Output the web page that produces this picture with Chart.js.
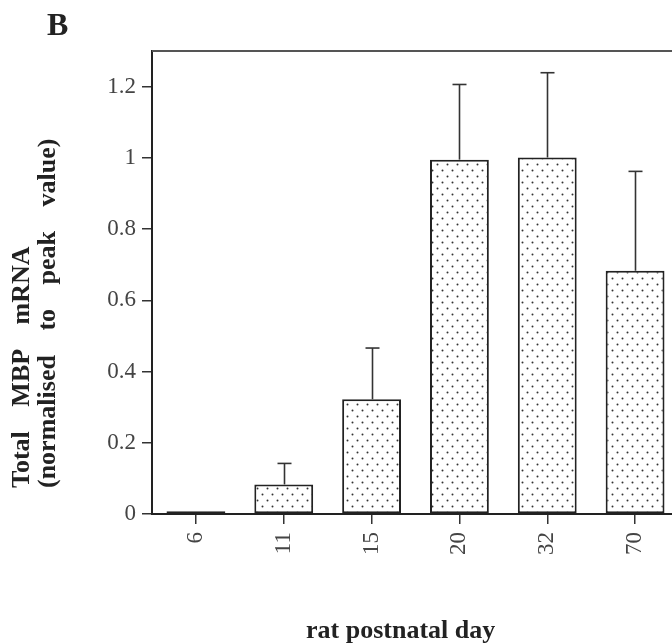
<!DOCTYPE html>
<html><head><meta charset="utf-8">
<script src="https://cdn.jsdelivr.net/npm/chart.js@4.4.1/dist/chart.umd.min.js"></script>
<style>
html,body{margin:0;padding:0;overflow:hidden;background:#fff;width:672px;height:644px;}
#wrap{position:relative;width:679px;height:644px;}
</style></head>
<body><div id="wrap"><canvas id="c" width="679" height="644"></canvas></div>
<script>
const days = ['6','11','15','20','32','70'];
const meanValues = [0.008, 0.083, 0.322, 0.995, 1.001, 0.683];
const errorValues = [0, 0.059, 0.144, 0.211, 0.238, 0.279];
const yTickValues = [0, 0.2, 0.4, 0.6, 0.8, 1, 1.2];
const yTitleLines = ['Total MBP mRNA', '(normalised to peak value)'];
const xTitle = 'rat postnatal day';
const panelLabel = 'B';

const SERIF = '"Liberation Serif", "DejaVu Serif", serif';

function makeDots(){
  const c = document.createElement('canvas');
  c.width = 10; c.height = 12;
  const g = c.getContext('2d');
  g.fillStyle = '#fff'; g.fillRect(0,0,10,12);
  g.fillStyle = '#333';
  g.beginPath(); g.arc(2.5,2.5,1.0,0,Math.PI*2); g.fill();
  g.beginPath(); g.arc(7.5,8.5,1.0,0,Math.PI*2); g.fill();
  return g.createPattern(c,'repeat');
}

const decor = {
  id:'decor',
  afterDatasetsDraw(chart){
    const ctx = chart.ctx, ca = chart.chartArea;
    const ys = chart.scales.y;
    const meta = chart.getDatasetMeta(0);
    ctx.save();
    ctx.strokeStyle = '#333'; ctx.lineWidth = 1.6;
    meta.data.forEach((bar,i)=>{
      const e = errorValues[i];
      if(!e) return;
      const x = Math.round(bar.x)+0.5;
      const top = ys.getPixelForValue(meanValues[i]+e);
      ctx.beginPath(); ctx.moveTo(x, bar.y); ctx.lineTo(x, top); ctx.stroke();
      ctx.beginPath(); ctx.moveTo(x-7, top); ctx.lineTo(x+7, top); ctx.stroke();
    });
    ctx.strokeStyle = '#555'; ctx.lineWidth = 2;
    ctx.beginPath(); ctx.moveTo(ca.left, ca.top); ctx.lineTo(ca.right, ca.top); ctx.stroke();
    ctx.restore();
  },
  afterDraw(chart){
    const ctx = chart.ctx;
    ctx.save();
    ctx.fillStyle = '#222';
    ctx.textBaseline = 'alphabetic';
    ctx.textAlign = 'left';
    ctx.font = 'bold 32px ' + SERIF;
    ctx.fillText(panelLabel, 47, 35);
    ctx.font = 'bold 26px ' + SERIF;
    ctx.fillText(xTitle, 306, 638);
    const bases = [29, 55];
    yTitleLines.forEach((line, li)=>{
      ctx.save();
      ctx.translate(bases[li], 488);
      ctx.rotate(-Math.PI/2);
      let x = 0;
      const words = line.split(' ');
      const sp = ctx.measureText(' ').width + 18;
      words.forEach(w=>{ ctx.fillText(w, x, 0); x += ctx.measureText(w).width + sp; });
      ctx.restore();
    });
    ctx.restore();
  }
};

new Chart(document.getElementById('c'), {
  type:'bar',
  data:{ labels: days, datasets:[{
    data: meanValues,
    backgroundColor: makeDots(),
    borderColor:'#222', borderWidth:2, borderSkipped:false,
    categoryPercentage:1, barPercentage:0.67
  }]},
  options:{
    responsive:false, animation:false, devicePixelRatio:1,
    layout:{padding:{top:51,left:0,right:0,bottom:0}},
    plugins:{legend:{display:false}, tooltip:{enabled:false}, title:{display:false}},
    scales:{
      x:{
        offset:true,
        grid:{display:true, offset:false, drawOnChartArea:false, drawTicks:true, tickLength:10, color:'#333', lineWidth:1.5},
        border:{display:true, color:'#222', width:2},
        ticks:{minRotation:90, maxRotation:90, padding:8, color:'#444', font:{family:SERIF, size:23}},
        afterFit(s){ s.height = 130; }
      },
      y:{
        min:0, max:1.3,
        grid:{display:true, drawOnChartArea:false, drawTicks:true, tickLength:10, color:'#333', lineWidth:1.5},
        border:{display:true, color:'#222', width:2},
        ticks:{padding:6, color:'#444', font:{family:SERIF, size:23}, callback:(v)=>String(+v.toFixed(1))},
        afterBuildTicks(s){ s.ticks = yTickValues.map(v=>({value:v})); },
        afterFit(s){ s.width = 152; }
      }
    }
  },
  plugins:[decor]
});
</script></body></html>
